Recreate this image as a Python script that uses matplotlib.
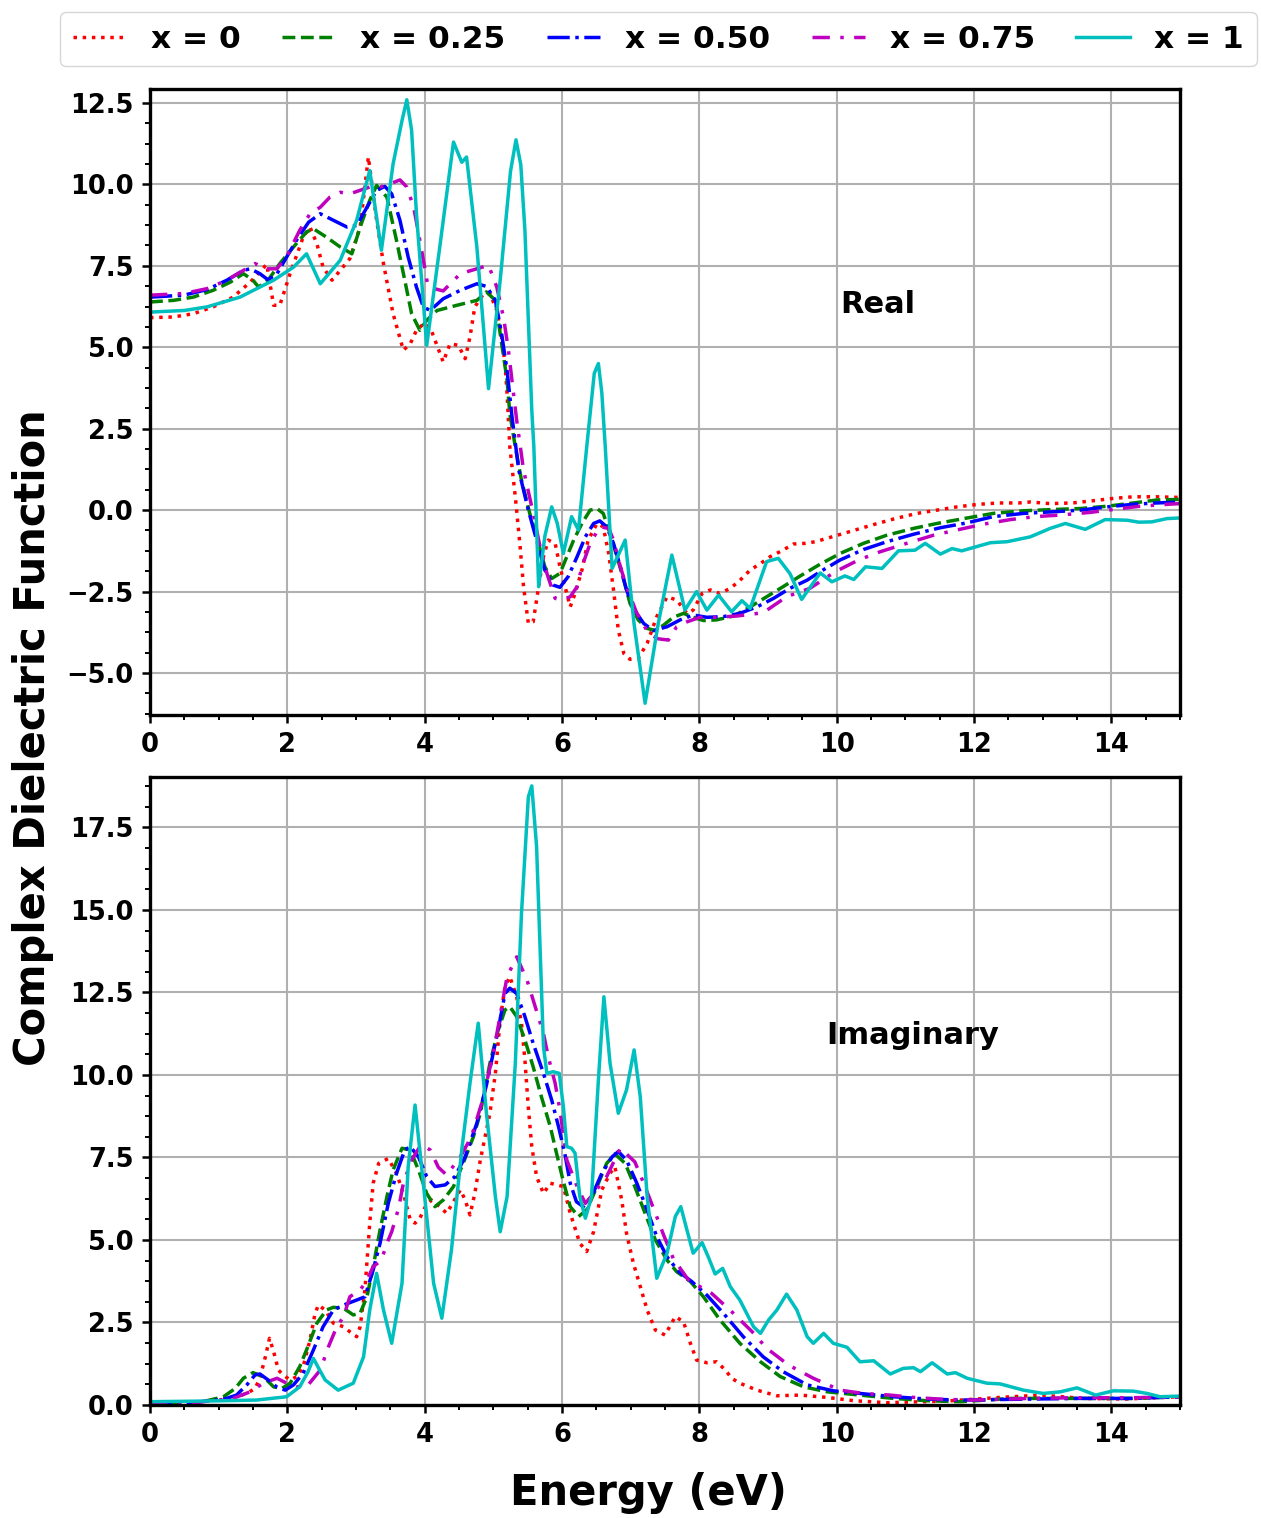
import matplotlib
matplotlib.use("Agg")
import matplotlib.pyplot as plt
from matplotlib.ticker import MultipleLocator

plt.rcParams['font.family'] = ['DejaVu Sans']
plt.rcParams['font.weight'] = 'bold'

labels = ["x = 0", "x = 0.25", "x = 0.50", "x = 0.75", "x = 1"]

# ---------------- Real part ----------------
re_E0 = [0.0, 0.34, 0.63, 0.92, 1.21, 1.46, 1.70, 1.80, 1.89, 2.04, 2.23, 2.33, 2.43, 2.52, 2.65, 2.77, 2.91, 3.06, 3.18, 3.30, 3.40, 3.54, 3.69, 3.79, 3.88, 4.0, 4.1, 4.27, 4.37, 4.49, 4.59, 4.66, 4.73, 4.86, 4.95, 5.05, 5.12, 5.17, 5.20, 5.24, 5.32, 5.39, 5.44, 5.51, 5.58, 5.66, 5.73, 5.80, 5.90, 5.97, 6.07, 6.12, 6.19, 6.29, 6.38, 6.51, 6.60, 6.68, 6.75, 6.82, 6.90, 6.99, 7.11, 7.24, 7.38, 7.53, 7.67, 7.82, 7.91, 8.04, 8.16, 8.30, 8.45, 8.57, 8.74, 8.89, 9.03, 9.20, 9.37, 9.54, 9.69, 9.98, 10.27, 10.56, 10.85, 11.17, 11.46, 11.75, 12.07, 12.36, 12.65, 12.82, 13.11, 13.43, 13.74, 14.03, 14.32, 14.66, 15.0]
re_y0 = [5.91, 5.93, 6.03, 6.24, 6.54, 7.0, 7.55, 6.29, 6.29, 7.26, 8.38, 8.69, 8.18, 7.46, 7.06, 7.36, 7.72, 8.69, 10.84, 8.9, 7.57, 6.03, 4.91, 5.11, 5.52, 5.75, 5.5, 4.55, 5.11, 5.06, 4.65, 5.32, 6.24, 6.65, 6.65, 6.13, 5.32, 4.5, 3.58, 1.94, 0.41, -1.12, -2.35, -3.48, -3.43, -2.35, -1.43, -0.92, -1.02, -1.74, -2.56, -2.97, -2.56, -1.84, -0.92, -0.41, -0.51, -1.33, -2.45, -3.68, -4.4, -4.58, -4.55, -4.09, -3.27, -2.66, -2.76, -3.17, -3.07, -2.56, -2.45, -2.56, -2.4, -2.2, -1.84, -1.64, -1.43, -1.25, -1.04, -1.02, -0.97, -0.79, -0.61, -0.43, -0.26, -0.1, 0.0, 0.1, 0.18, 0.22, 0.22, 0.25, 0.2, 0.22, 0.29, 0.36, 0.41, 0.41, 0.39]

re_E25 = [0, 0.34, 0.63, 0.92, 1.17, 1.36, 1.50, 1.58, 1.72, 1.89, 2.09, 2.28, 2.38, 2.57, 2.77, 2.94, 3.06, 3.20, 3.30, 3.45, 3.59, 3.71, 3.81, 3.93, 4.03, 4.18, 4.47, 4.76, 4.90, 5.03, 5.10, 5.20, 5.24, 5.32, 5.41, 5.53, 5.63, 5.75, 5.85, 5.97, 6.07, 6.17, 6.29, 6.41, 6.51, 6.60, 6.70, 6.80, 6.90, 6.99, 7.11, 7.24, 7.36, 7.48, 7.62, 7.77, 7.91, 8.06, 8.25, 8.50, 8.74, 8.98, 9.22, 9.47, 9.76, 10.05, 10.39, 10.73, 11.12, 11.46, 11.85, 12.28, 12.72, 13.16, 13.55, 13.94, 14.32, 14.66, 15.0]
re_y25 = [6.39, 6.44, 6.54, 6.75, 7.0, 7.26, 7.06, 6.85, 7.06, 7.57, 8.08, 8.54, 8.64, 8.38, 8.08, 7.87, 8.69, 9.51, 9.97, 9.61, 8.28, 7.06, 6.03, 5.52, 5.83, 6.13, 6.29, 6.44, 6.7, 6.44, 5.42, 3.99, 2.97, 1.94, 0.92, -0.1, -0.82, -1.74, -2.1, -1.94, -1.43, -0.92, -0.41, 0.0, 0.05, -0.1, -0.72, -1.43, -2.15, -2.86, -3.37, -3.63, -3.7, -3.53, -3.29, -3.17, -3.29, -3.39, -3.37, -3.25, -2.97, -2.66, -2.35, -2.02, -1.66, -1.33, -1.02, -0.77, -0.56, -0.41, -0.26, -0.1, -0.02, 0.02, 0.05, 0.12, 0.22, 0.31, 0.33]

re_E50 = [0, 0.49, 0.83, 1.12, 1.36, 1.46, 1.60, 1.72, 1.85, 1.99, 2.16, 2.31, 2.48, 2.67, 2.87, 3.01, 3.16, 3.30, 3.42, 3.52, 3.64, 3.76, 3.88, 3.98, 4.08, 4.27, 4.52, 4.76, 4.90, 5.03, 5.12, 5.20, 5.27, 5.37, 5.51, 5.63, 5.75, 5.87, 5.97, 6.09, 6.22, 6.34, 6.46, 6.55, 6.65, 6.75, 6.85, 6.94, 7.04, 7.19, 7.33, 7.53, 7.72, 7.91, 8.11, 8.35, 8.59, 8.84, 9.08, 9.32, 9.57, 9.76, 10.05, 10.39, 10.73, 11.12, 11.51, 11.90, 12.28, 12.72, 13.16, 13.55, 13.94, 14.32, 14.66, 15.0]
re_y50 = [6.54, 6.6, 6.77, 7.06, 7.36, 7.41, 7.26, 7.07, 7.26, 7.77, 8.38, 8.84, 9.1, 8.9, 8.69, 8.74, 9.3, 9.82, 9.94, 9.71, 8.9, 7.77, 6.85, 6.24, 6.13, 6.49, 6.75, 6.95, 6.87, 6.44, 5.42, 4.29, 2.9, 1.23, 0.0, -0.92, -1.84, -2.3, -2.37, -2.04, -1.43, -0.82, -0.41, -0.33, -0.51, -1.02, -1.74, -2.45, -3.02, -3.48, -3.7, -3.58, -3.37, -3.22, -3.29, -3.27, -3.17, -2.97, -2.71, -2.4, -2.15, -1.89, -1.53, -1.21, -0.97, -0.74, -0.54, -0.39, -0.2, -0.1, -0.05, 0.0, 0.1, 0.18, 0.22, 0.25]

re_E75 = [0, 0.49, 0.83, 1.12, 1.36, 1.53, 1.70, 1.85, 2.01, 2.18, 2.33, 2.48, 2.62, 2.77, 2.91, 3.06, 3.20, 3.35, 3.50, 3.64, 3.74, 3.84, 3.93, 4.05, 4.27, 4.52, 4.76, 4.93, 5.05, 5.15, 5.22, 5.29, 5.34, 5.44, 5.56, 5.68, 5.78, 5.90, 6.00, 6.12, 6.22, 6.29, 6.41, 6.55, 6.68, 6.75, 6.85, 6.94, 7.09, 7.26, 7.40, 7.55, 7.67, 7.82, 8.01, 8.25, 8.55, 8.93, 9.27, 9.61, 9.98, 10.32, 10.63, 11.02, 11.41, 11.75, 12.14, 12.53, 12.89, 13.26, 13.69, 14.03, 14.42, 14.83, 15.0]
re_y75 = [6.6, 6.65, 6.8, 7.06, 7.36, 7.57, 7.41, 7.41, 7.87, 8.59, 9.1, 9.3, 9.61, 9.76, 9.71, 9.82, 9.92, 9.92, 10.02, 10.14, 9.92, 9.3, 8.28, 6.85, 6.73, 7.26, 7.41, 7.52, 6.85, 5.9, 4.91, 3.65, 2.76, 1.23, 0.1, -1.12, -1.94, -2.71, -2.75, -2.66, -2.35, -1.74, -1.02, -0.51, -0.56, -0.92, -1.74, -2.35, -3.17, -3.78, -3.95, -3.99, -3.58, -3.43, -3.29, -3.29, -3.25, -3.15, -2.66, -2.4, -1.89, -1.53, -1.28, -1.02, -0.77, -0.61, -0.43, -0.29, -0.2, -0.15, -0.07, 0.02, 0.12, 0.18, 0.2]

re_E100 = [0.0, 0.5, 0.83, 1.31, 1.8, 2.09, 2.28, 2.48, 2.77, 3.01, 3.2, 3.37, 3.54, 3.67, 3.74, 3.81, 3.88, 4.03, 4.22, 4.42, 4.54, 4.61, 4.76, 4.93, 5.1, 5.25, 5.33, 5.40, 5.46, 5.56, 5.59, 5.66, 5.75, 5.85, 5.93, 6.02, 6.14, 6.24, 6.36, 6.47, 6.53, 6.58, 6.63, 6.73, 6.92, 7.05, 7.21, 7.4, 7.6, 7.79, 7.96, 8.11, 8.28, 8.47, 8.62, 8.74, 8.98, 9.15, 9.32, 9.49, 9.76, 9.93, 10.12, 10.25, 10.42, 10.66, 10.9, 11.14, 11.29, 11.51, 11.68, 11.82, 12.24, 12.48, 12.82, 13.11, 13.33, 13.62, 13.91, 14.23, 14.4, 14.59, 14.81, 15.0]
re_y100 = [6.08, 6.13, 6.24, 6.54, 7.06, 7.46, 7.87, 6.95, 7.67, 8.9, 10.43, 7.98, 10.63, 11.96, 12.6, 11.66, 9.1, 5.06, 8.08, 11.3, 10.68, 10.84, 8.08, 3.73, 7.06, 10.4, 11.37, 10.6, 8.59, 3.07, 1.94, -2.35, -0.8, 0.1, -0.4, -1.33, -0.2, -0.61, 1.94, 4.2, 4.5, 3.6, 1.94, -1.79, -0.92, -3.5, -5.93, -3.5, -1.38, -3.07, -2.5, -3.07, -2.61, -3.12, -2.78, -3.02, -1.58, -1.48, -1.95, -2.74, -1.93, -2.2, -2.02, -2.13, -1.74, -1.79, -1.25, -1.23, -1.02, -1.35, -1.18, -1.25, -1.0, -0.97, -0.82, -0.56, -0.41, -0.59, -0.29, -0.31, -0.37, -0.36, -0.26, -0.24]

# ---------------- Imaginary part ----------------
im_E0 = [0, 0.5, 1.07, 1.26, 1.41, 1.53, 1.60, 1.68, 1.74, 1.80, 1.87, 1.94, 2.04, 2.14, 2.23, 2.33, 2.40, 2.45, 2.55, 2.67, 2.82, 2.91, 3.01, 3.06, 3.13, 3.20, 3.25, 3.33, 3.47, 3.59, 3.69, 3.79, 3.86, 3.93, 4.01, 4.10, 4.22, 4.32, 4.42, 4.52, 4.59, 4.66, 4.73, 4.81, 4.95, 5.03, 5.10, 5.17, 5.24, 5.34, 5.41, 5.46, 5.51, 5.56, 5.63, 5.73, 5.83, 6.02, 6.12, 6.26, 6.36, 6.46, 6.58, 6.70, 6.77, 6.87, 6.94, 7.04, 7.14, 7.24, 7.36, 7.50, 7.65, 7.77, 7.87, 7.96, 8.11, 8.25, 8.38, 8.47, 8.59, 8.84, 9.13, 9.47, 9.86, 10.25, 10.73, 11.6, 12.38, 12.98, 13.59, 14.2, 15.0]
im_y0 = [0.02, 0.05, 0.17, 0.25, 0.35, 0.5, 0.81, 1.46, 2.02, 1.62, 1.06, 0.91, 0.76, 0.86, 1.16, 1.97, 2.73, 3.03, 2.88, 2.48, 2.37, 2.22, 2.07, 2.37, 3.48, 5.51, 6.72, 7.32, 7.47, 7.02, 6.41, 5.61, 5.51, 5.66, 6.01, 6.21, 6.01, 5.81, 6.16, 6.52, 6.21, 5.76, 6.41, 7.42, 8.84, 10.05, 11.67, 12.68, 12.98, 12.37, 11.57, 10.45, 9.0, 7.83, 6.92, 6.41, 6.72, 6.62, 5.81, 4.9, 4.65, 5.25, 6.52, 7.02, 7.22, 6.21, 5.2, 4.29, 3.59, 2.88, 2.27, 2.12, 2.68, 2.52, 1.87, 1.36, 1.28, 1.31, 1.06, 0.81, 0.66, 0.45, 0.28, 0.3, 0.23, 0.13, 0.07, 0.12, 0.23, 0.3, 0.2, 0.18, 0.25]

im_E25 = [0, 0.5, 0.83, 1.07, 1.24, 1.36, 1.50, 1.65, 1.80, 1.92, 2.04, 2.18, 2.28, 2.43, 2.57, 2.67, 2.82, 2.96, 3.06, 3.16, 3.25, 3.35, 3.45, 3.54, 3.67, 3.79, 3.91, 4.03, 4.15, 4.27, 4.42, 4.56, 4.71, 4.81, 4.95, 5.07, 5.17, 5.24, 5.34, 5.46, 5.58, 5.70, 5.83, 5.92, 6.02, 6.12, 6.24, 6.36, 6.51, 6.65, 6.77, 6.92, 7.06, 7.21, 7.36, 7.53, 7.67, 7.87, 8.06, 8.30, 8.59, 8.89, 9.18, 9.52, 9.86, 10.34, 10.83, 11.31, 11.8, 12.55, 13.5, 14.3, 15.0]
im_y25 = [0.02, 0.05, 0.13, 0.25, 0.5, 0.81, 0.98, 0.86, 0.55, 0.5, 0.66, 1.16, 1.67, 2.48, 2.88, 2.96, 2.93, 2.73, 2.78, 3.28, 4.19, 5.3, 6.31, 7.12, 7.78, 7.73, 7.12, 6.41, 6.01, 6.21, 6.62, 7.32, 8.13, 8.84, 10.35, 11.36, 11.97, 12.07, 11.77, 11.06, 10.25, 9.34, 8.43, 7.63, 6.77, 6.01, 5.71, 5.91, 6.62, 7.32, 7.61, 7.32, 6.62, 5.81, 5.0, 4.39, 4.04, 3.74, 3.28, 2.58, 1.87, 1.31, 0.86, 0.55, 0.4, 0.3, 0.2, 0.13, 0.1, 0.2, 0.2, 0.2, 0.25]

im_E50 = [0, 0.5, 1.07, 1.26, 1.41, 1.53, 1.60, 1.72, 1.85, 1.97, 2.09, 2.23, 2.38, 2.52, 2.67, 2.82, 3.01, 3.13, 3.25, 3.35, 3.47, 3.59, 3.71, 3.79, 3.91, 4.03, 4.15, 4.30, 4.44, 4.59, 4.76, 4.90, 5.07, 5.17, 5.24, 5.34, 5.46, 5.58, 5.73, 5.85, 5.95, 6.04, 6.12, 6.21, 6.31, 6.43, 6.58, 6.73, 6.82, 6.94, 7.09, 7.24, 7.38, 7.53, 7.70, 7.89, 8.11, 8.35, 8.64, 8.93, 9.22, 9.57, 9.95, 10.34, 10.83, 11.31, 11.8, 12.5, 13.5, 14.3, 15.0]
im_y50 = [0.02, 0.05, 0.17, 0.3, 0.61, 0.91, 0.94, 0.76, 0.54, 0.45, 0.61, 0.96, 1.67, 2.37, 2.88, 3.03, 3.18, 3.28, 4.09, 4.9, 6.11, 7.02, 7.73, 7.83, 7.52, 6.92, 6.62, 6.67, 6.92, 7.52, 8.54, 9.7, 11.36, 12.47, 12.63, 12.47, 11.77, 10.96, 10.05, 9.24, 8.43, 7.63, 6.72, 6.16, 6.01, 6.31, 7.02, 7.52, 7.68, 7.42, 6.72, 5.91, 5.1, 4.49, 4.04, 3.74, 3.33, 2.78, 2.07, 1.46, 1.01, 0.61, 0.43, 0.35, 0.25, 0.18, 0.15, 0.17, 0.2, 0.2, 0.25]

im_E75 = [0, 0.5, 1.21, 1.46, 1.65, 1.85, 1.99, 2.14, 2.30, 2.48, 2.60, 2.72, 2.82, 2.91, 3.06, 3.16, 3.25, 3.37, 3.45, 3.52, 3.62, 3.69, 3.81, 3.95, 4.08, 4.20, 4.32, 4.52, 4.68, 4.83, 5.00, 5.07, 5.20, 5.34, 5.49, 5.61, 5.73, 5.80, 5.90, 5.97, 6.07, 6.22, 6.34, 6.46, 6.65, 6.85, 7.06, 7.19, 7.36, 7.48, 7.62, 7.84, 8.18, 8.47, 8.77, 8.98, 9.30, 9.66, 10.05, 10.39, 10.78, 11.12, 11.56, 12.0, 12.8, 13.5, 14.3, 15.0]
im_y75 = [0.02, 0.04, 0.2, 0.4, 0.66, 0.81, 0.66, 0.55, 0.6, 1.06, 1.77, 2.37, 2.68, 3.28, 3.48, 3.79, 4.19, 4.39, 4.9, 5.25, 5.96, 6.72, 7.42, 7.9, 7.73, 7.2, 6.97, 7.52, 8.13, 9.14, 10.66, 11.46, 12.98, 13.58, 12.88, 12.07, 11.26, 10.55, 9.75, 8.94, 7.42, 6.62, 6.11, 6.41, 6.92, 7.78, 7.37, 6.72, 5.81, 5.15, 4.44, 3.79, 3.38, 2.83, 2.22, 1.72, 1.21, 0.81, 0.45, 0.35, 0.3, 0.23, 0.17, 0.15, 0.2, 0.22, 0.22, 0.25]

im_E100 = [0, 0.83, 1.55, 1.99, 2.18, 2.30, 2.38, 2.46, 2.55, 2.74, 2.96, 3.11, 3.20, 3.30, 3.40, 3.52, 3.67, 3.76, 3.86, 3.98, 4.13, 4.25, 4.39, 4.54, 4.66, 4.78, 4.90, 5.03, 5.10, 5.20, 5.32, 5.41, 5.51, 5.56, 5.63, 5.68, 5.73, 5.78, 5.87, 5.96, 6.02, 6.07, 6.14, 6.19, 6.26, 6.34, 6.43, 6.53, 6.61, 6.70, 6.82, 6.94, 7.05, 7.14, 7.24, 7.38, 7.53, 7.65, 7.73, 7.82, 7.91, 8.04, 8.13, 8.23, 8.34, 8.45, 8.59, 8.79, 8.89, 9.01, 9.13, 9.27, 9.42, 9.57, 9.66, 9.81, 9.95, 10.15, 10.34, 10.54, 10.78, 10.97, 11.12, 11.22, 11.39, 11.61, 11.73, 11.90, 12.19, 12.38, 12.72, 13.01, 13.26, 13.5, 13.77, 14.03, 14.32, 14.52, 14.71, 15.0]
im_y100 = [0.1, 0.12, 0.15, 0.25, 0.55, 1.0, 1.41, 1.1, 0.76, 0.45, 0.66, 1.46, 2.88, 3.99, 2.88, 1.87, 3.69, 7.22, 9.09, 6.72, 3.69, 2.63, 4.7, 7.73, 9.75, 11.57, 8.84, 6.31, 5.25, 6.31, 10.35, 14.9, 18.43, 18.76, 16.92, 13.89, 10.86, 10.05, 10.1, 10.05, 9.04, 7.83, 7.78, 7.63, 6.31, 5.66, 6.31, 9.85, 12.37, 10.35, 8.84, 9.55, 10.76, 9.34, 6.31, 3.84, 4.6, 5.71, 6.01, 5.3, 4.6, 4.92, 4.49, 3.97, 4.14, 3.59, 3.18, 2.37, 2.17, 2.58, 2.88, 3.36, 2.88, 2.07, 1.87, 2.17, 1.87, 1.75, 1.31, 1.34, 0.94, 1.11, 1.13, 1.01, 1.28, 0.94, 0.98, 0.81, 0.66, 0.64, 0.45, 0.35, 0.4, 0.52, 0.3, 0.43, 0.42, 0.35, 0.25, 0.27]

colors = ['red', 'green', 'blue', 'm', 'c']
styles = [':', '--', '-.', (0, (5, 3, 1, 3)), '-']
lw = 2.5

fig = plt.figure(figsize=(12.61, 15.18), dpi=100)
ax1 = fig.add_axes([150/1261, 1-715/1518, 1030/1261, 626/1518])
ax2 = fig.add_axes([150/1261, 1-1405/1518, 1030/1261, 628/1518])

re_sets = [(re_E0, re_y0), (re_E25, re_y25), (re_E50, re_y50), (re_E75, re_y75), (re_E100, re_y100)]
im_sets = [(im_E0, im_y0), (im_E25, im_y25), (im_E50, im_y50), (im_E75, im_y75), (im_E100, im_y100)]

handles = []
for (E, y), c, ls, lab in zip(re_sets, colors, styles, labels):
    h, = ax1.plot(E, y, color=c, linestyle=ls, lw=lw, label=lab)
    handles.append(h)
for (E, y), c, ls in zip(im_sets, colors, styles):
    ax2.plot(E, y, color=c, linestyle=ls, lw=lw)

ax1.set_xlim(0, 15)
ax1.set_ylim(-6.29, 12.93)
ax2.set_xlim(0, 15)
ax2.set_ylim(0, 19.03)

for ax in (ax1, ax2):
    ax.xaxis.set_major_locator(MultipleLocator(2))
    ax.xaxis.set_minor_locator(MultipleLocator(0.5))
    ax.yaxis.set_major_locator(MultipleLocator(2.5))
    ax.yaxis.set_minor_locator(MultipleLocator(0.625))
    ax.grid(True, which='major', color='#b0b0b0', lw=1.5)
    ax.set_axisbelow(True)
    for s in ax.spines.values():
        s.set_linewidth(2.4)
    ax.tick_params(which='major', length=6, width=1.8, labelsize=18.5, pad=6)
    ax.tick_params(which='minor', length=3.5, width=1.4)
    for lab in ax.get_xticklabels() + ax.get_yticklabels():
        lab.set_fontweight('bold')

ax1.text(10.05, 6.3, "Real", fontsize=22, fontweight='bold', va='center', ha='left')
ax2.text(11.1, 11.2, "Imaginary", fontsize=22, fontweight='bold', va='center', ha='center')

fig.text(33/1261, 1-738/1518, "Complex Dielectric Function", rotation=90,
         fontsize=30, fontweight='bold', ha='center', va='center')
fig.text(648/1261, 1-1493/1518, "Energy (eV)", fontsize=30, fontweight='bold',
         ha='center', va='center')

leg = fig.legend(handles=handles, loc='upper left', bbox_to_anchor=(60/1261, 1-12/1518),
                 ncol=5, prop={'weight': 'bold', 'size': 22.5},
                 columnspacing=1.33, handlelength=1.7, handletextpad=0.8,
                 frameon=True, borderpad=0.4, borderaxespad=0)

fig.savefig("out.png", dpi=100)
